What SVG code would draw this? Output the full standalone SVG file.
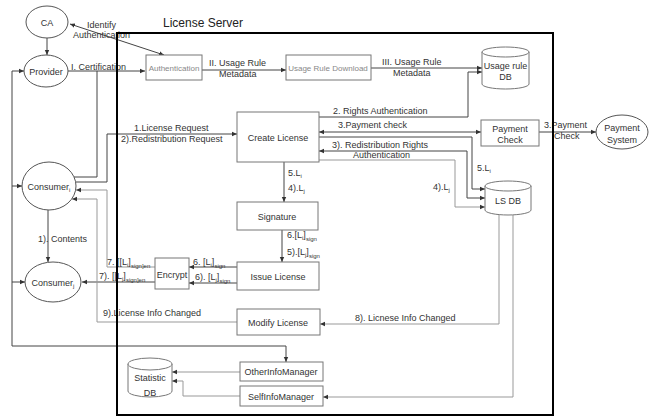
<svg xmlns="http://www.w3.org/2000/svg" width="655" height="417" viewBox="0 0 655 417">
<style>
text{font-family:"Liberation Sans",Arial,sans-serif;font-size:9px;fill:#333}
.c{text-anchor:middle}
.g{fill:#888;font-size:8px}
.t{font-size:12px;fill:#222}
.box{fill:#fff;stroke:#777;stroke-width:1}
.ln{fill:none;stroke:#444;stroke-width:1}
.lg{fill:none;stroke:#999;stroke-width:1}
.s{font-size:6px}
</style>
<defs>
<marker id="a" markerWidth="6" markerHeight="6" refX="5" refY="3" orient="auto-start-reverse" markerUnits="userSpaceOnUse"><path d="M0,0.8 L5,3 L0,5.2 z" fill="#333"/></marker>
</defs>
<rect width="655" height="417" fill="#fff"/>
<g id="connectors">
<path class="ln" d="M47,38 V55" marker-end="url(#a)"/>
<path class="ln" d="M164,55 L70,24" marker-start="url(#a)" marker-end="url(#a)"/>
<path class="ln" d="M68,71 H145" marker-end="url(#a)"/>
<path class="ln" d="M97,71 V177 H74"/>
<path class="ln" d="M12,71 V346 H286 V362" marker-end="url(#a)"/>
<path class="ln" d="M12,71 H24" marker-end="url(#a)"/>
<path class="ln" d="M12,186 H22" marker-end="url(#a)"/>
<path class="ln" d="M12,282 H25" marker-end="url(#a)"/>
<path class="ln" d="M202,70 H286" marker-end="url(#a)"/>
<path class="ln" d="M371,68 H482" marker-end="url(#a)"/>
<path class="ln" d="M319,117 H468 V72 H482" marker-end="url(#a)"/>
<path class="ln" d="M319,132 H481" marker-start="url(#a)" marker-end="url(#a)"/>
<path class="ln" d="M539,132 H596" marker-end="url(#a)"/>
<path class="ln" d="M319,137 H472 V189 H485" marker-end="url(#a)"/>
<path class="ln" d="M319,151 H467 V198 H485" marker-start="url(#a)" marker-end="url(#a)"/>
<path class="lg" d="M319,160 H455 V207 H485" marker-end="url(#a)"/>
<path class="ln" d="M76,182 H107 V134 H237" marker-end="url(#a)"/>
<path class="ln" d="M284,162 V202" marker-end="url(#a)"/>
<path class="ln" d="M282,230 V262" marker-end="url(#a)"/>
<path class="ln" d="M237,267 H189" marker-end="url(#a)"/>
<path class="ln" d="M237,283 H189" marker-end="url(#a)"/>
<path class="lg" d="M155,267 H107 V190 H76" marker-end="url(#a)"/>
<path class="ln" d="M155,282 H82" marker-end="url(#a)"/>
<path class="ln" d="M48,210 V262" marker-end="url(#a)"/>
<path class="lg" d="M237,322 H97 V199 H72" marker-end="url(#a)"/>
<path class="lg" d="M499,215 V324 H320" marker-end="url(#a)"/>
<path class="lg" d="M513,215 V397 H323" marker-end="url(#a)"/>
<path class="lg" d="M240,372 H172" marker-end="url(#a)"/>
<path class="lg" d="M240,396 H183 V381 H172" marker-end="url(#a)"/>
</g>
<g id="labels">
<text x="87" y="28">Identify</text>
<text x="73" y="38">Authentication</text>
<text x="71" y="70">I. Certification</text>
<text x="209" y="66">II. Usage Rule</text>
<text x="219" y="77">Metadata</text>
<text x="382" y="65">III. Usage Rule</text>
<text x="393" y="76">Metadata</text>
<text x="333" y="114">2.  Rights Authentication</text>
<text x="134" y="131">1.License Request</text>
<text x="121" y="142">2).Redistribution Request</text>
<text x="338" y="128">3.Payment check</text>
<text x="332" y="148">3). Redistribution Rights</text>
<text x="353" y="158">Authentication</text>
<text x="544" y="128">3.Payment</text>
<text x="554" y="139">Check</text>
<text x="288" y="176">5.L<tspan class="s" dy="2">i</tspan></text>
<text x="288" y="191">4).L<tspan class="s" dy="2">j</tspan></text>
<text x="477" y="171">5.L<tspan class="s" dy="2">i</tspan></text>
<text x="433" y="190">4).L<tspan class="s" dy="2">j</tspan></text>
<text x="287" y="238">6.[L<tspan class="s" dy="2">i</tspan><tspan dy="-2">]</tspan><tspan class="s" dy="3">sign</tspan></text>
<text x="287" y="255">5).[L<tspan class="s" dy="2">j</tspan><tspan dy="-2">]</tspan><tspan class="s" dy="3">sign</tspan></text>
<text x="193" y="265">6. [L<tspan class="s" dy="2">i</tspan><tspan dy="-2">]</tspan><tspan class="s" dy="3">sign</tspan></text>
<text x="195" y="280">6). [L<tspan class="s" dy="2">j</tspan><tspan dy="-2">]</tspan><tspan class="s" dy="3">sign</tspan></text>
<text x="107" y="265">7. [[L<tspan class="s" dy="2">i</tspan><tspan dy="-2">]</tspan><tspan class="s" dy="3">sign]en</tspan></text>
<text x="99" y="279">7). [[L<tspan class="s" dy="2">j</tspan><tspan dy="-2">]</tspan><tspan class="s" dy="3">sign]en</tspan></text>
<text x="38" y="242">1). Contents</text>
<text x="103" y="316">9).License Info Changed</text>
<text x="355" y="321">8).  Licnese Info Changed</text>
</g>
<g id="CA"><ellipse cx="47" cy="22" rx="21" ry="16" fill="#fff" stroke="#555"/><text class="c" x="47" y="26">CA</text></g>
<g id="Provider"><ellipse cx="46" cy="71" rx="22" ry="16" fill="#fff" stroke="#555"/><text class="c" x="46" y="75">Provider</text></g>
<g id="Consumer_i"><ellipse cx="49" cy="186" rx="27" ry="24" fill="#fff" stroke="#555"/><text class="c" x="49" y="190">Consumer<tspan class="s" dy="2">i</tspan></text></g>
<g id="Consumer_j"><ellipse cx="53" cy="282" rx="28" ry="20" fill="#fff" stroke="#555"/><text class="c" x="53" y="286">Consumer<tspan class="s" dy="2">j</tspan></text></g>
<g id="PaymentSystem"><ellipse cx="622" cy="132" rx="26" ry="17" fill="#fff" stroke="#555"/><text class="c" x="622" y="131">Payment</text><text class="c" x="622" y="143">System</text></g>
<g id="Authentication"><rect class="box" x="146" y="55" width="56" height="25"/><text class="c g" x="174" y="71">Authentication</text></g>
<g id="UsageRuleDownload"><rect class="box" x="286" y="55" width="85" height="25"/><text class="c g" x="328" y="71">Usage Rule Download</text></g>
<g id="UsageRuleDB"><path class="box" d="M482,52 V84 A23.5,5 0 0 0 529,84 V52"/><ellipse class="box" cx="505.5" cy="52" rx="23.5" ry="5"/><text class="c" x="505.5" y="69">Usage rule</text><text class="c" x="505.5" y="80">DB</text></g>
<g id="CreateLicense"><rect class="box" x="237" y="112" width="82" height="50"/><text class="c" x="278" y="141">Create License</text></g>
<g id="PaymentCheck"><rect class="box" x="481" y="120" width="58" height="26"/><text class="c" x="510" y="132">Payment</text><text class="c" x="510" y="143">Check</text></g>
<g id="LSDB"><path class="box" d="M485,186 V210 A23,5 0 0 0 531,210 V186"/><ellipse class="box" cx="508" cy="186" rx="23" ry="5"/><text class="c" x="508" y="204">LS DB</text></g>
<g id="Signature"><rect class="box" x="237" y="202" width="81" height="28"/><text class="c" x="277" y="220">Signature</text></g>
<g id="IssueLicense"><rect class="box" x="237" y="262" width="82" height="28"/><text class="c" x="278" y="280">Issue License</text></g>
<g id="Encrypt"><rect class="box" x="155" y="258" width="34" height="31"/><text class="c" x="172" y="278">Encrypt</text></g>
<g id="ModifyLicense"><rect class="box" x="237" y="309" width="83" height="26"/><text class="c" x="278" y="326">Modify License</text></g>
<g id="OtherInfoManager"><rect class="box" x="240" y="362" width="83" height="19"/><text class="c" x="281" y="375">OtherInfoManager</text></g>
<g id="SelfInfoManager"><rect class="box" x="240" y="386" width="83" height="20"/><text class="c" x="281" y="400">SelfInfoManager</text></g>
<g id="StatisticDB"><path class="box" d="M128,364 V391 A22,6 0 0 0 172,391 V364"/><ellipse class="box" cx="150" cy="364" rx="22" ry="6"/><text class="c" x="150" y="381">Statistic</text><text class="c" x="150" y="396">DB</text></g>
<g id="LicenseServer"><rect x="117" y="33" width="436" height="382" fill="none" stroke="#000" stroke-width="2"/><text class="t" x="163" y="27">License Server</text></g>
</svg>
